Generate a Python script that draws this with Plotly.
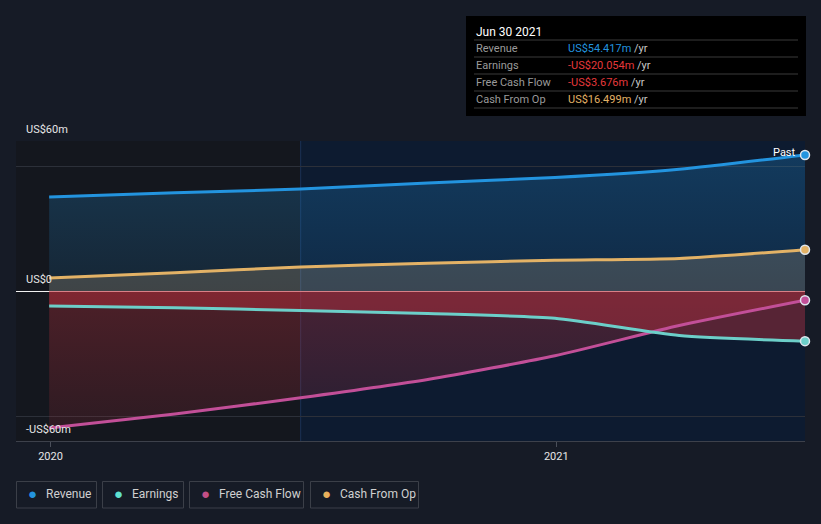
import plotly.graph_objects as go
from datetime import datetime

# ---------------- data ----------------
dates = ["2019-12-31", "2020-03-31", "2020-06-30", "2020-09-30",
         "2020-12-31", "2021-03-31", "2021-06-30"]
revenue = [37.6, 39.3, 40.8, 43.2, 45.4, 48.7, 54.417]
earnings = [-6.0, -6.7, -7.8, -9.0, -10.9, -17.8, -20.054]
free_cash_flow = [-54.8, -49.2, -42.7, -35.4, -25.9, -13.8, -3.676]
cash_from_op = [5.2, 7.3, 9.6, 11.1, 12.3, 13.0, 16.499]

series_names = ["Revenue", "Earnings", "Free Cash Flow", "Cash From Op"]
y_tick_vals = [-60, 0, 60]
y_tick_text = ["-US$60m", "US$0", "US$60m"]
x_tick_vals = ["2020-01-01", "2021-01-01"]
x_tick_text = ["2020", "2021"]
x_range = ["2019-12-07", "2021-06-30"]
past_start = "2020-06-30"

# ---------------- style ----------------
PAPER = "#161b26"
PLOT = "#14171e"
NAVY = "#0d1b30"
C_REV = "#2394df"
C_EARN = "#6ccfc9"
C_FCF = "#c24f98"
C_CFO = "#e3b266"
C_NEG = "#e5383b"
FONT = "Roboto"

W, H = 821, 524
L, R, T, B = 16, 16, 141, 83
PW, PH = W - L - R, H - T - B


def px(xp):
    return (xp - L) / PW


def py(yp):
    return (H - B - yp) / PH


fig = go.Figure()

# ---- fills (drawn first) ----
fig.add_trace(go.Scatter(
    x=dates, y=free_cash_flow, mode="lines", fill="tozeroy",
    line=dict(width=0, shape="spline", smoothing=0.6),
    fillgradient=dict(type="vertical", start=-55, stop=0,
                      colorscale=[[0, "rgba(200,50,62,0.14)"], [1, "rgba(200,50,62,0.32)"]]),
    hoverinfo="skip", showlegend=False))
fig.add_trace(go.Scatter(
    x=dates, y=earnings, mode="lines", fill="tozeroy",
    line=dict(width=0, shape="spline", smoothing=0.6),
    fillcolor="rgba(200,50,62,0.40)",
    hoverinfo="skip", showlegend=False))
fig.add_trace(go.Scatter(
    x=dates, y=revenue, mode="lines", fill="tozeroy",
    line=dict(width=0, shape="spline", smoothing=0.6),
    fillgradient=dict(type="vertical", start=0, stop=55,
                      colorscale=[[0, "rgba(35,148,223,0.12)"], [1, "rgba(35,148,223,0.26)"]]),
    hoverinfo="skip", showlegend=False))
fig.add_trace(go.Scatter(
    x=dates, y=cash_from_op, mode="lines", fill="tozeroy",
    line=dict(width=0, shape="spline", smoothing=0.6),
    fillcolor="rgba(230,190,140,0.20)",
    hoverinfo="skip", showlegend=False))

# ---- lines ----
for name, vals, col in [("Free Cash Flow", free_cash_flow, C_FCF),
                        ("Earnings", earnings, C_EARN),
                        ("Cash From Op", cash_from_op, C_CFO),
                        ("Revenue", revenue, C_REV)]:
    fig.add_trace(go.Scatter(
        x=dates, y=vals, mode="lines", name=name,
        line=dict(color=col, width=3, shape="spline", smoothing=0.6),
        showlegend=False))
    fig.add_trace(go.Scatter(
        x=[dates[-1]], y=[vals[-1]], mode="markers",
        marker=dict(color=col, size=9, line=dict(color="#dfe6ee", width=1.5)),
        showlegend=False, hoverinfo="skip", cliponaxis=False))

# ---- past-year highlight ----
fig.add_shape(type="rect", xref="x", yref="paper", x0=past_start, x1=x_range[1],
              y0=0, y1=1, fillcolor=NAVY, line=dict(width=0), layer="below")
fig.add_shape(type="line", xref="x", yref="paper", x0=past_start, x1=past_start,
              y0=0, y1=1, line=dict(color="rgba(40,80,140,0.45)", width=1), layer="below")

annotations = []
# y labels
for v, t in zip(y_tick_vals, y_tick_text):
    annotations.append(dict(xref="paper", yref="y", x=0, y=v, xanchor="left", yanchor="middle",
                            xshift=8, yshift=12, text=t, showarrow=False,
                            font=dict(family=FONT, size=11, color="#e6e6e6")))
# Past label
annotations.append(dict(xref="x", yref="y", x=dates[-1], y=revenue[-1], xanchor="right",
                        yanchor="middle", xshift=-7, yshift=2, text="Past", showarrow=False,
                        font=dict(family=FONT, size=11, color="#ffffff")))

# ---- tooltip box ----
shapes = []
shapes.append(dict(type="rect", xref="paper", yref="paper", x0=px(466), x1=px(806),
                   y0=py(116), y1=py(16), fillcolor="#000000", line=dict(width=0)))
for yy in [40, 57, 74, 91, 108]:
    shapes.append(dict(type="line", xref="paper", yref="paper", x0=px(474), x1=px(798),
                       y0=py(yy), y1=py(yy), line=dict(color="#3a3a3a", width=1)))

date_label = datetime.strptime(dates[-1], "%Y-%m-%d").strftime("%b %d %Y")
annotations.append(dict(xref="paper", yref="paper", x=px(474), y=py(32), xanchor="left",
                        yanchor="middle", text=date_label, showarrow=False,
                        font=dict(family=FONT, size=12, color="#ffffff")))


def fmt(v):
    s = "US$%.3fm" % abs(v)
    return ("-" + s) if v < 0 else s


rows = [("Revenue", revenue[-1], C_REV), ("Earnings", earnings[-1], C_NEG),
        ("Free Cash Flow", free_cash_flow[-1], C_NEG), ("Cash From Op", cash_from_op[-1], C_CFO)]
for i, (lab, v, col) in enumerate(rows):
    yy = 48.5 + 17 * i
    annotations.append(dict(xref="paper", yref="paper", x=px(474), y=py(yy), xanchor="left",
                            yanchor="middle", text=lab, showarrow=False,
                            font=dict(family=FONT, size=11, color="#9a9a9a")))
    annotations.append(dict(xref="paper", yref="paper", x=px(566), y=py(yy), xanchor="left",
                            yanchor="middle", showarrow=False,
                            text='<span style="color:%s">%s</span><span style="color:#c8c8c8"> /yr</span>' % (col, fmt(v)),
                            font=dict(family=FONT, size=11, color=col)))

# ---- legend boxes ----
legend_items = [("Revenue", C_REV, 16, 81), ("Earnings", "#5fe0cf", 102, 82),
                ("Free Cash Flow", "#c24f86", 189, 115), ("Cash From Op", "#e8b05c", 310, 109)]
for lab, col, x0, w in legend_items:
    shapes.append(dict(type="rect", xref="paper", yref="paper", x0=px(x0 + 0.5), x1=px(x0 + w - 0.5),
                       y0=py(508), y1=py(481.5), fillcolor="rgba(0,0,0,0)",
                       line=dict(color="#3b3f48", width=1)))
    annotations.append(dict(xref="paper", yref="paper", x=px(x0 + 16), y=py(494.5), xanchor="center",
                            yanchor="middle", showarrow=False, text="●",
                            font=dict(family=FONT, size=15, color=col)))
    annotations.append(dict(xref="paper", yref="paper", x=px(x0 + 28), y=py(494.5), xanchor="left",
                            yanchor="middle", showarrow=False, text=lab,
                            font=dict(family=FONT, size=12, color="#d0d0d0")))

fig.update_layout(
    width=W, height=H,
    margin=dict(l=L, r=R, t=T, b=B),
    paper_bgcolor=PAPER, plot_bgcolor=PLOT,
    showlegend=False,
    font=dict(family=FONT, color="#e6e6e6"),
    shapes=list(fig.layout.shapes) + shapes,
    annotations=annotations,
    xaxis=dict(type="date", range=x_range, tickvals=x_tick_vals, ticktext=x_tick_text,
               showgrid=False, zeroline=False, ticks="outside", ticklen=5,
               tickcolor="#4a4f5a", showline=True, linecolor="#3d414b", linewidth=1,
               tickfont=dict(family=FONT, size=11, color="#e6e6e6"), fixedrange=True),
    yaxis=dict(range=[-60, 60], tickvals=[-60, -50, 50, 60], showticklabels=False,
               showgrid=True, gridcolor="#2c3039", gridwidth=1,
               zeroline=True, zerolinecolor="#f2f2f2", zerolinewidth=1, fixedrange=True),
)

fig.write_html("out.html", config={"displayModeBar": False},
               post_script="document.body.style.margin='0';document.body.style.overflow='hidden';")
